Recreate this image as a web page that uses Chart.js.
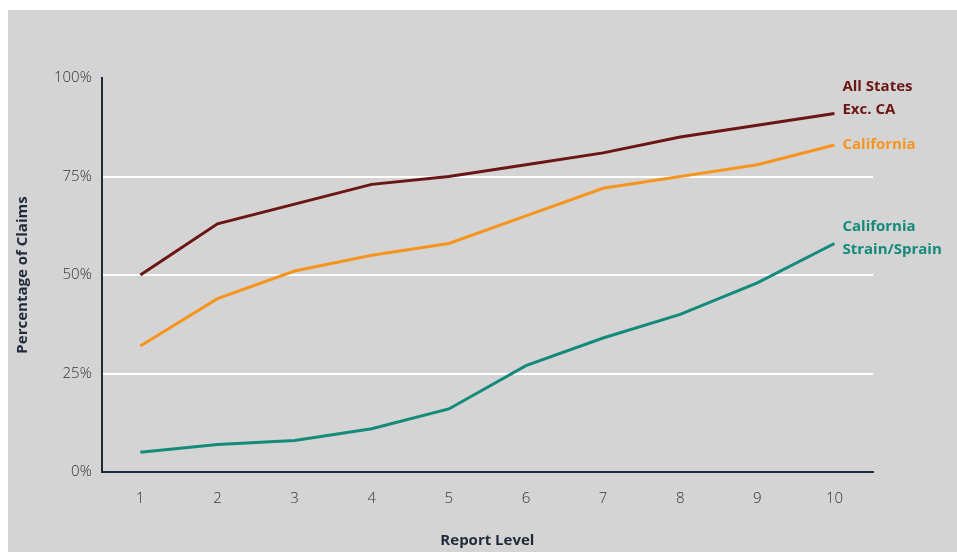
<!DOCTYPE html>
<html>
<head>
<meta charset="utf-8">
<script src="https://cdn.jsdelivr.net/npm/chart.js@4"></script>
<style>
  html, body { margin: 0; padding: 0; background: #fff; }
  #wrap { position: absolute; left: 8px; top: 10px; width: 949px; height: 542px; background: #d4d4d4; }
</style>
</head>
<body>
<div id="wrap"><canvas id="chart" width="949" height="542"></canvas></div>
<script>
// Data
const reportLevels = ['1', '2', '3', '4', '5', '6', '7', '8', '9', '10'];
const allStatesExCA = [50, 63, 68, 73, 75, 78, 81, 85, 88, 91];
const california = [32, 44, 51, 55, 58, 65, 72, 75, 78, 83];
const caStrainSprain = [5, 7, 8, 11, 16, 27, 34, 40, 48, 58];

const seriesNames = [['All States', 'Exc. CA'], ['California'], ['California', 'Strain/Sprain']];
const seriesColors = ['#6b1515', '#f7941d', '#138a7a'];

// Draws series names to the right of each line's last point
const endLabels = {
  id: 'endLabels',
  afterDatasetsDraw(chart) {
    const ctx = chart.ctx;
    ctx.save();
    ctx.font = 'bold 15px "Open Sans", sans-serif';
    ctx.textBaseline = 'middle';
    const offsets = [-27, 0, -17];
    chart.data.datasets.forEach((ds, i) => {
      const pt = chart.getDatasetMeta(i).data[ds.data.length - 1];
      ctx.fillStyle = seriesColors[i];
      seriesNames[i].forEach((line, j) => {
        ctx.fillText(line, pt.x + 8, pt.y + offsets[i] + j * 23);
      });
    });
    ctx.restore();
  }
};

function makeSet(data, color) {
  return { data, borderColor: color, backgroundColor: color, borderWidth: 3, pointRadius: 0, tension: 0, fill: false };
}

new Chart(document.getElementById('chart'), {
  type: 'line',
  data: {
    labels: reportLevels,
    datasets: [
      makeSet(allStatesExCA, seriesColors[0]),
      makeSet(california, seriesColors[1]),
      makeSet(caStrainSprain, seriesColors[2])
    ]
  },
  options: {
    responsive: false,
    animation: false,
    layout: { padding: { top: 68, right: 84, left: 2, bottom: 0 } },
    plugins: { legend: { display: false }, tooltip: { enabled: false } },
    scales: {
      x: {
        offset: true,
        grid: { display: false, drawOnChartArea: false },
        border: { color: '#1f2a3a', width: 2 },
        ticks: { color: '#333', font: { family: '"Open Sans", sans-serif', size: 15, weight: '300' }, padding: 10 },
        title: { display: true, text: 'Report Level', color: '#1f2a3a', font: { family: '"Open Sans", sans-serif', size: 15, weight: 'bold' }, padding: { top: 14, bottom: 2 } }
      },
      y: {
        min: 0, max: 100,
        ticks: { stepSize: 25, callback: v => v + '%', color: '#333', font: { family: '"Open Sans", sans-serif', size: 15, weight: '300' }, padding: 10 },
        grid: { color: ctx => (ctx.tick && ctx.tick.value > 0 && ctx.tick.value < 100) ? '#ffffff' : 'rgba(0,0,0,0)', lineWidth: 2, drawTicks: false },
        border: { color: '#1f2a3a', width: 2 },
        title: { display: true, text: 'Percentage of Claims', color: '#1f2a3a', font: { family: '"Open Sans", sans-serif', size: 15, weight: 'bold' }, padding: { bottom: 12 } }
      }
    }
  },
  plugins: [endLabels]
});
</script>
</body>
</html>
